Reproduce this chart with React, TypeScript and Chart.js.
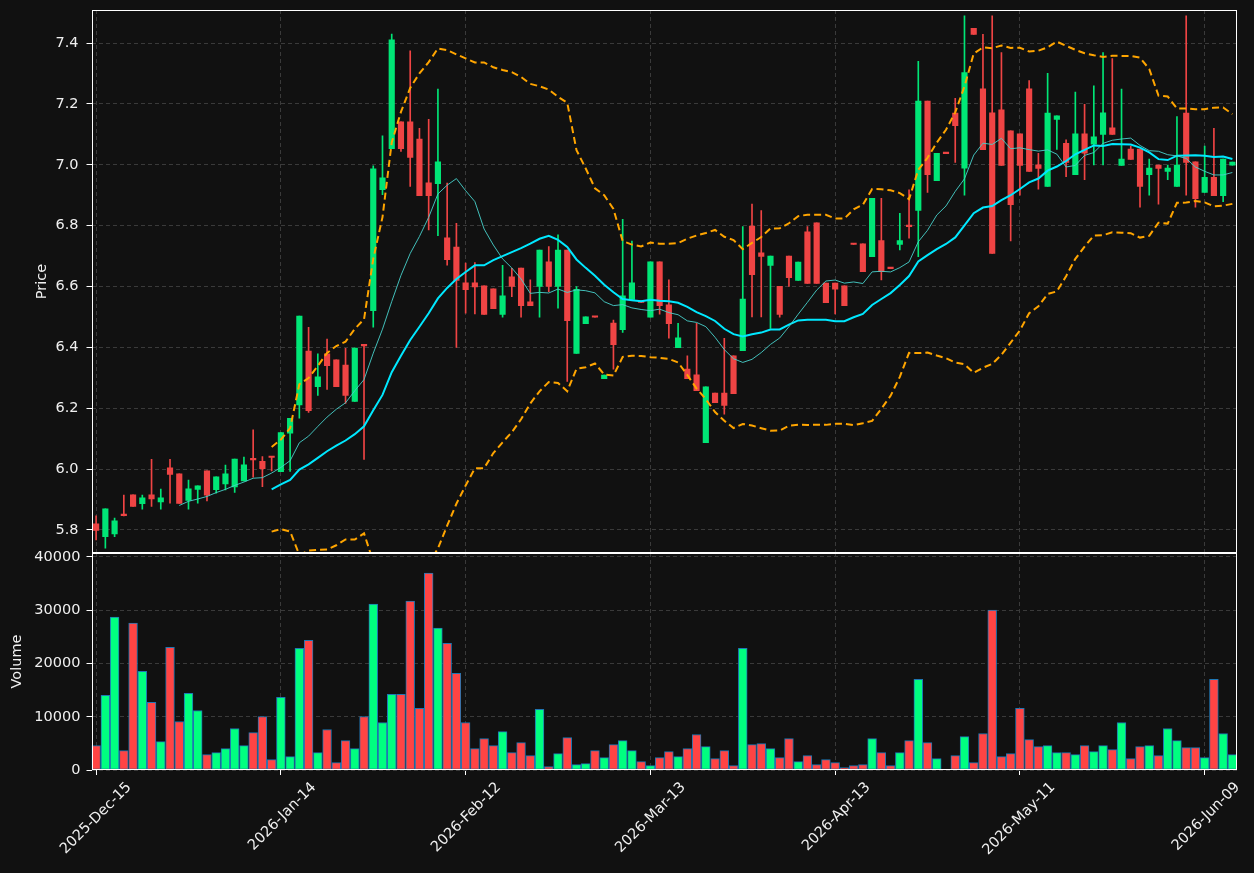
import React, { useEffect, useRef } from 'react';
import { Chart, registerables } from 'chart.js';

Chart.register(...registerables);

// ---------- data ----------
const dateTickIndex = [0, 20, 40, 60, 80, 100, 120];
const dateTickLabels = ['2025-Dec-15', '2026-Jan-14', '2026-Feb-12', '2026-Mar-13', '2026-Apr-13', '2026-May-11', '2026-Jun-09'];
const priceTicks = [5.8, 6.0, 6.2, 6.4, 6.6, 6.8, 7.0, 7.2, 7.4];
const volumeTicks = [0, 10000, 20000, 30000, 40000];

const opens = [
  5.820, 5.778, 5.787, 5.850, 5.915, 5.886, 5.915, 5.892, 6.004, 5.984,
  5.897, 5.933, 5.994, 5.932, 5.951, 5.941, 5.961, 6.033, 6.025, 6.040,
  5.991, 6.118, 6.211, 6.388, 6.271, 6.379, 6.359, 6.342, 6.222, 6.409,
  6.521, 6.918, 7.053, 7.141, 7.141, 7.085, 6.941, 6.938, 6.760, 6.730,
  6.612, 6.612, 6.602, 6.592, 6.508, 6.632, 6.661, 6.550, 6.600, 6.681,
  6.600, 6.720, 6.380, 6.478, 6.501, 6.297, 6.480, 6.458, 6.558, 6.552,
  6.499, 6.681, 6.540, 6.399, 6.329, 6.310, 6.087, 6.250, 6.250, 6.372,
  6.389, 6.799, 6.711, 6.669, 6.601, 6.700, 6.620, 6.780, 6.809, 6.611,
  6.611, 6.602, 6.740, 6.740, 6.698, 6.751, 6.661, 6.738, 6.800, 6.850,
  7.210, 6.948, 7.039, 7.170, 6.989, 7.449, 7.250, 7.171, 7.181, 7.112,
  7.102, 7.250, 7.000, 6.929, 7.149, 7.071, 6.968, 7.102, 7.068, 7.100,
  7.122, 6.998, 7.052, 7.052, 6.968, 6.999, 6.978, 6.929, 7.170, 7.010,
  6.909, 6.959, 6.899, 6.999,
];
const highs = [
  5.846, 5.869, 5.839, 5.914, 5.915, 5.914, 6.032, 5.934, 6.032, 5.984,
  5.964, 5.945, 5.994, 5.974, 6.013, 6.033, 6.039, 6.129, 6.041, 6.040,
  6.120, 6.167, 6.503, 6.466, 6.379, 6.427, 6.359, 6.397, 6.398, 6.410,
  6.997, 7.095, 7.430, 7.141, 7.375, 7.120, 7.150, 7.249, 6.940, 6.808,
  6.677, 6.679, 6.602, 6.592, 6.670, 6.660, 6.661, 6.622, 6.720, 6.731,
  6.770, 6.720, 6.600, 6.500, 6.501, 6.309, 6.490, 6.821, 6.749, 6.552,
  6.681, 6.681, 6.622, 6.479, 6.372, 6.479, 6.270, 6.250, 6.430, 6.372,
  6.797, 6.871, 6.850, 6.700, 6.601, 6.700, 6.680, 6.797, 6.809, 6.611,
  6.611, 6.602, 6.740, 6.740, 6.890, 6.890, 6.661, 6.841, 6.918, 7.340,
  7.210, 7.038, 7.039, 7.219, 7.490, 7.449, 7.429, 7.490, 7.369, 7.112,
  7.102, 7.277, 7.038, 7.301, 7.161, 7.082, 7.239, 7.199, 7.260, 7.369,
  7.349, 7.249, 7.062, 7.052, 7.019, 6.999, 6.999, 7.159, 7.490, 7.010,
  7.062, 7.120, 7.019, 7.009,
];
const lows = [
  5.767, 5.740, 5.778, 5.846, 5.877, 5.868, 5.877, 5.868, 5.888, 5.887,
  5.868, 5.888, 5.895, 5.921, 5.931, 5.923, 5.961, 5.973, 5.942, 5.994,
  5.991, 5.992, 6.167, 6.186, 6.242, 6.262, 6.271, 6.216, 6.222, 6.032,
  6.466, 6.902, 7.053, 7.044, 6.929, 6.899, 6.786, 6.767, 6.670, 6.400,
  6.512, 6.510, 6.508, 6.527, 6.499, 6.567, 6.499, 6.537, 6.499, 6.583,
  6.529, 6.288, 6.380, 6.478, 6.499, 6.297, 6.328, 6.449, 6.558, 6.548,
  6.499, 6.509, 6.430, 6.399, 6.297, 6.258, 6.087, 6.218, 6.180, 6.248,
  6.389, 6.500, 6.500, 6.462, 6.499, 6.600, 6.620, 6.610, 6.610, 6.547,
  6.510, 6.537, 6.738, 6.649, 6.698, 6.622, 6.659, 6.720, 6.759, 6.698,
  6.909, 6.948, 7.037, 7.008, 6.900, 7.429, 7.050, 6.709, 6.998, 6.750,
  6.900, 6.978, 6.920, 6.929, 7.051, 6.961, 6.968, 6.951, 7.000, 7.000,
  7.100, 6.998, 7.018, 6.861, 6.900, 6.871, 6.951, 6.929, 6.900, 6.861,
  6.909, 6.899, 6.879, 6.999,
];
const closes = [
  5.798, 5.869, 5.830, 5.847, 5.877, 5.905, 5.902, 5.905, 5.982, 5.887,
  5.935, 5.945, 5.914, 5.974, 5.984, 6.033, 6.014, 6.030, 6.001, 6.038,
  6.120, 6.167, 6.503, 6.192, 6.303, 6.340, 6.271, 6.242, 6.398, 6.405,
  6.987, 6.957, 7.411, 7.053, 7.024, 6.899, 6.899, 7.010, 6.688, 6.620,
  6.590, 6.599, 6.508, 6.527, 6.569, 6.600, 6.537, 6.537, 6.720, 6.600,
  6.720, 6.488, 6.591, 6.500, 6.499, 6.309, 6.409, 6.569, 6.612, 6.548,
  6.681, 6.537, 6.478, 6.431, 6.297, 6.258, 6.270, 6.218, 6.209, 6.248,
  6.559, 6.639, 6.699, 6.700, 6.508, 6.629, 6.680, 6.610, 6.610, 6.547,
  6.591, 6.537, 6.738, 6.649, 6.890, 6.649, 6.659, 6.751, 6.797, 7.210,
  6.968, 7.038, 7.037, 7.129, 7.303, 7.429, 7.050, 6.709, 6.998, 6.869,
  6.998, 6.978, 6.988, 7.170, 7.161, 7.008, 7.102, 7.038, 7.092, 7.171,
  7.100, 7.019, 7.018, 6.929, 6.989, 6.988, 6.989, 6.999, 7.008, 6.889,
  6.959, 6.899, 7.019, 7.009,
];
const volumes = [
  4580, 14000, 28700, 3640, 27570, 18530, 12690, 5340, 23050, 9110,
  14380, 11180, 2890, 3270, 4020, 7790, 4580, 7030, 10050, 1950,
  13630, 2510, 22860, 24370, 3270, 7600, 1380, 5530, 4020, 10050,
  31150, 8920, 14190, 14190, 31710, 11560, 36990, 26630, 23800, 18150,
  8920, 4020, 5900, 4580, 7220, 3270, 5150, 2700, 11370, 630,
  3080, 6090, 1000, 1190, 3640, 2320, 4770, 5530, 3640, 1570,
  820, 2320, 3450, 2510, 4020, 6660, 4400, 2140, 3640, 820,
  22860, 4770, 4960, 4020, 2320, 5900, 1570, 2700, 1000, 1950,
  1380, 440, 820, 1000, 5900, 3270, 820, 3270, 5530, 17020,
  5150, 2140, 0, 2700, 6280, 1380, 6850, 30020, 2510, 3080,
  11560, 5710, 4400, 4580, 3270, 3270, 2890, 4580, 3450, 4580,
  3830, 8920, 2140, 4400, 4580, 2700, 7790, 5530, 4210, 4210,
  2320, 17020, 6850, 2890,
];

// ---------- indicators derived from the closes ----------
function sma(values: number[], n: number) {
  const out: { x: number; y: number }[] = [];
  for (let i = n - 1; i < values.length; i++) {
    let s = 0;
    for (let k = i - n + 1; k <= i; k++) s += values[k];
    out.push({ x: i, y: s / n });
  }
  return out;
}
function bollinger(values: number[], n: number, mult: number) {
  const up: { x: number; y: number }[] = [];
  const lo: { x: number; y: number }[] = [];
  for (let i = n - 1; i < values.length; i++) {
    let s = 0;
    for (let k = i - n + 1; k <= i; k++) s += values[k];
    const m = s / n;
    let v = 0;
    for (let k = i - n + 1; k <= i; k++) v += (values[k] - m) * (values[k] - m);
    const sd = Math.sqrt(v / n);
    up.push({ x: i, y: m + mult * sd });
    lo.push({ x: i, y: m - mult * sd });
  }
  return { up, lo };
}

const BG = '#111111';
const TEXT = '#f0f0f0';
const GRID = '#3a3a3a';
const UP_C = '#00e676';
const DN_C = '#ef4444';
const VOL_UP = '#00ff80';
const VOL_DN = '#ff4444';
const FONT = 'DejaVu Sans';

const framePlugin = {
  id: 'frame',
  afterDraw(chart: any) {
    const { ctx, chartArea } = chart;
    ctx.save();
    ctx.strokeStyle = '#ffffff';
    ctx.lineWidth = 1;
    ctx.setLineDash([]);
    const l = Math.round(chartArea.left) + 0.5;
    const t = Math.round(chartArea.top) + 0.5;
    const r = Math.round(chartArea.right) - 0.5;
    const b = Math.round(chartArea.bottom) - 0.5;
    ctx.strokeRect(l, t, r - l, b - t);
    ctx.restore();
  },
};

const noPadX = (h: number) => (s: any) => {
  s.height = h;
  s.paddingLeft = 0;
  s.paddingRight = 0;
  s.paddingTop = 0;
  s.paddingBottom = 0;
};
const noPadY = (w: number) => (s: any) => {
  s.width = w;
  s.paddingLeft = 0;
  s.paddingRight = 0;
  s.paddingTop = 0;
  s.paddingBottom = 0;
};

export default function App() {
  const priceRef = useRef<HTMLCanvasElement | null>(null);
  const volRef = useRef<HTMLCanvasElement | null>(null);

  useEffect(() => {
    document.body.style.margin = '0';
    document.body.style.background = BG;
    const up = closes.map((c, i) => c >= opens[i]);
    const candleColors = up.map((u) => (u ? UP_C : DN_C));
    const volColors = up.map((u) => (u ? VOL_UP : VOL_DN));
    const ma10 = sma(closes, 10);
    const ma20 = sma(closes, 20);
    const bb = bollinger(closes, 20, 2);

    const xTicksBuild = (s: any) => {
      s.ticks = dateTickIndex.map((v) => ({ value: v }));
    };

    const priceChart = new Chart(priceRef.current as HTMLCanvasElement, {
      type: 'bar',
      data: {
        datasets: [
          { type: 'line', label: 'MA10', data: ma10, borderColor: 'rgba(72,209,204,0.9)', borderWidth: 1, pointRadius: 0, order: 0 } as any,
          { type: 'line', label: 'MA20', data: ma20, borderColor: '#00e8ff', borderWidth: 2, pointRadius: 0, order: 0 } as any,
          { type: 'line', label: 'BB upper', data: bb.up, borderColor: '#ffa500', borderWidth: 2, borderDash: [7, 4], pointRadius: 0, order: 0 } as any,
          { type: 'line', label: 'BB lower', data: bb.lo, borderColor: '#ffa500', borderWidth: 2, borderDash: [7, 4], pointRadius: 0, order: 0 } as any,
          {
            type: 'bar',
            label: 'body',
            data: closes.map((c, i) => ({ x: i, y: [opens[i], c] })),
            backgroundColor: candleColors,
            borderWidth: 0,
            barThickness: 5.5,
            grouped: false,
            minBarLength: 1.5,
            order: 1,
          } as any,
          {
            type: 'bar',
            label: 'wick',
            data: highs.map((h, i) => ({ x: i, y: [lows[i], h] })),
            backgroundColor: candleColors,
            borderWidth: 0,
            barThickness: 1,
            grouped: false,
            order: 2,
          } as any,
        ],
      },
      options: {
        animation: false,
        responsive: false,
        maintainAspectRatio: false,
        layout: { padding: { left: 33.6, right: 17, top: 10, bottom: 0 } },
        plugins: { legend: { display: false }, tooltip: { enabled: false } },
        scales: {
          x: {
            type: 'linear',
            min: -0.5,
            max: 123.5,
            offset: false,
            grid: { offset: false, color: GRID, lineWidth: 1, drawTicks: false },
            border: { display: false, dash: [4, 3] },
            ticks: { display: false },
            afterBuildTicks: xTicksBuild,
            afterFit: noPadX(0),
          },
          y: {
            type: 'linear',
            min: 5.724,
            max: 7.509,
            grid: { color: GRID, lineWidth: 1, drawTicks: true, tickLength: 5, tickColor: '#ffffff', tickWidth: 1, tickBorderDash: [] },
            border: { display: false, dash: [4, 3] },
            ticks: { color: TEXT, font: { family: FONT, size: 14.5 }, padding: 8, callback: (v: any) => Number(v).toFixed(1) },
            afterBuildTicks: (s: any) => { s.ticks = priceTicks.map((v) => ({ value: v })); },
            afterFit: noPadY(91.5 - 33.6),
            title: { display: true, text: 'Price', color: TEXT, font: { family: FONT, size: 14.5 }, padding: 0 },
          },
        },
      } as any,
      plugins: [framePlugin],
    });

    const volChart = new Chart(volRef.current as HTMLCanvasElement, {
      type: 'bar',
      data: {
        datasets: [
          {
            label: 'Volume',
            data: volumes.map((v, i) => ({ x: i, y: v })),
            backgroundColor: volColors,
            borderColor: '#1f77b4',
            borderWidth: 1,
            borderSkipped: false,
            barThickness: 8.8,
            grouped: false,
          } as any,
        ],
      },
      options: {
        animation: false,
        responsive: false,
        maintainAspectRatio: false,
        layout: { padding: { left: 8.6, right: 17, top: 20, bottom: 0 } },
        plugins: { legend: { display: false }, tooltip: { enabled: false } },
        scales: {
          x: {
            type: 'linear',
            min: -0.5,
            max: 123.5,
            offset: false,
            grid: { offset: false, color: GRID, lineWidth: 1, drawTicks: true, tickLength: 5, tickColor: '#ffffff', tickWidth: 1, tickBorderDash: [] },
            border: { display: false, dash: [4, 3] },
            ticks: {
              color: TEXT,
              font: { family: FONT, size: 14.5 },
              autoSkip: false,
              minRotation: 45,
              maxRotation: 45,
              padding: 4,
              labelOffset: 33,
              callback: (v: any) => {
                const k = dateTickIndex.indexOf(Math.round(Number(v)));
                return k >= 0 ? dateTickLabels[k] : '';
              },
            },
            afterBuildTicks: xTicksBuild,
            afterFit: noPadX(103),
          },
          y: {
            type: 'linear',
            min: 0,
            max: 40750,
            grid: { color: GRID, lineWidth: 1, drawTicks: true, tickLength: 5, tickColor: '#ffffff', tickWidth: 1, tickBorderDash: [] },
            border: { display: false, dash: [4, 3] },
            ticks: { color: TEXT, font: { family: FONT, size: 14.5 }, padding: 6, callback: (v: any) => String(v) },
            afterBuildTicks: (s: any) => { s.ticks = volumeTicks.map((v) => ({ value: v })); },
            afterFit: noPadY(91.5 - 8.6),
            title: { display: true, text: 'Volume', color: TEXT, font: { family: FONT, size: 14.5 }, padding: 0 },
          },
        },
      } as any,
      plugins: [framePlugin],
    });

    return () => {
      priceChart.destroy();
      volChart.destroy();
    };
  }, []);

  return (
    <div style={{ position: 'absolute', left: 0, top: 0, width: 1254, height: 873, background: BG, overflow: 'hidden' }}>
      <canvas ref={priceRef} width={1254} height={553} style={{ position: 'absolute', left: 0, top: 0, width: 1254, height: 553 }} />
      <canvas ref={volRef} width={1254} height={340} style={{ position: 'absolute', left: 0, top: 533, width: 1254, height: 340 }} />
    </div>
  );
}
